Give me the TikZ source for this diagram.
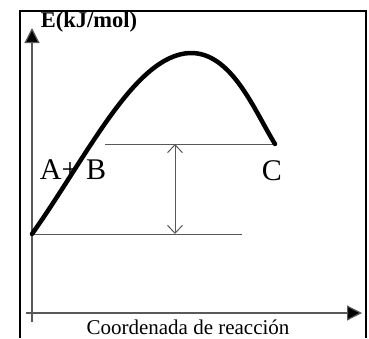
\documentclass[tikz,border=0pt]{standalone}
\usepackage{fontspec}
\setmainfont{Liberation Serif}
\usepackage{tikz}
\usetikzlibrary{arrows.meta,positioning,calc}

\begin{document}
\begin{tikzpicture}[
    x=1pt, y=-1pt,
    axis/.style={draw=black!65, line width=1.2pt, -{Triangle[length=15pt, width=15pt, fill=black]}},
    level/.style={draw=black!65, line width=1pt},
    curve/.style={line width=4.5pt, line cap=round},
    gap/.style={draw=black!65, line width=1pt, {Straight Barb[length=8pt, width=15pt]}-{Straight Barb[length=8pt, width=15pt]}},
    lbl/.style={inner sep=0pt, font=\fontsize{30}{32}\selectfont},
]
\useasboundingbox (0,0) rectangle (369,338);
% frame
\draw[line width=2pt] (20,338) -- (20,11) -- (366,11) -- (366,338);

% axes
\coordinate (o) at (32,322);
\coordinate (yend) at (32,28);
\coordinate (xstart) at (26,313);
\coordinate (xend) at (362,313);
\draw[axis] (o) -- (yend);
\draw[axis] (xstart) -- (xend);
\node[inner sep=0pt, font=\bfseries\fontsize{22.5}{24}\selectfont] (ylab) at (89,22) {E(kJ/mol)};
\node[inner sep=0pt, font=\fontsize{21}{23}\selectfont] (xlab) at (188,327) {Coordenada de reacción};

% energy levels
\coordinate (r) at (32,234);
\coordinate (p) at (275,144);
\coordinate (top) at (190,53);
\draw[level] (r) -- (242,234);
\draw[level] (105,144) -- (p);
\coordinate (gtop) at (175,144);
\coordinate (gbot) at (175,234);
\draw[gap] (gtop) -- (gbot);

% reaction curve
\draw[curve] (r) .. controls (88,155) and (135,55) .. (top)
                 .. controls (232,52) and (255,112) .. (p);

\node[lbl] (ab) at (73,170) {A+ B};
\node[lbl] (c) at (272,171) {C};
\end{tikzpicture}
\end{document}
